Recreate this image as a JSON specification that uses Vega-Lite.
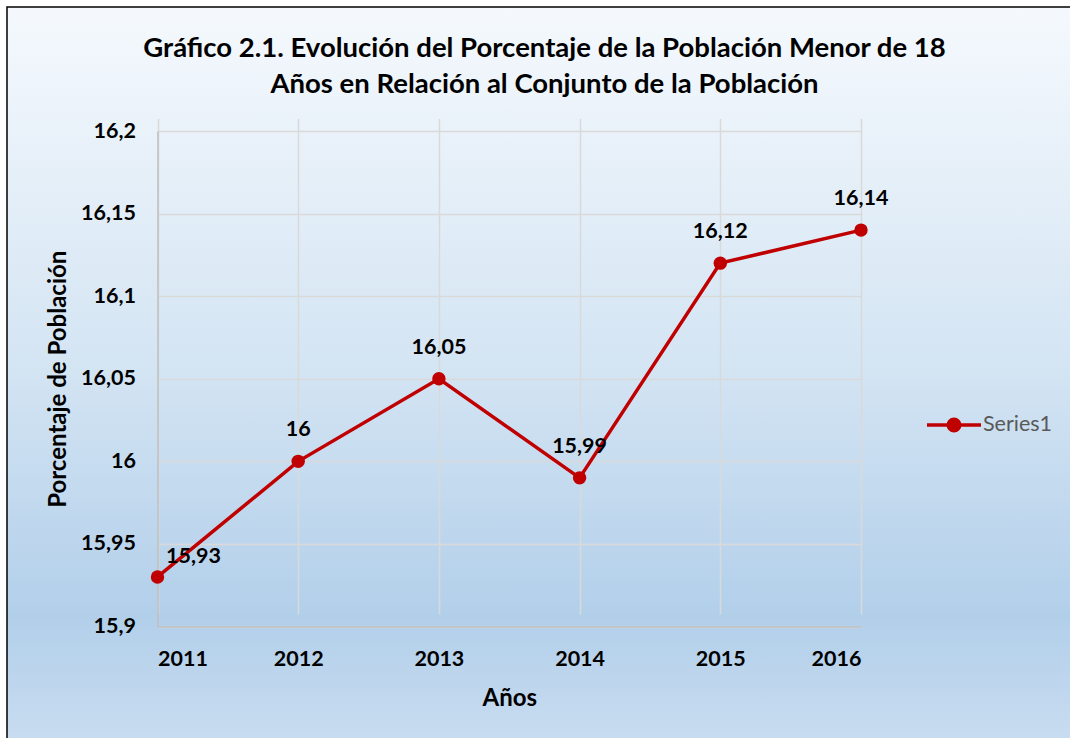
{
  "$schema": "https://vega.github.io/schema/vega-lite/v6.json",
  "width": 1063,
  "height": 731,
  "padding": {"left": 7, "top": 7, "right": 0, "bottom": 0},
  "autosize": {"type": "none"},
  "background": "#ffffff",
  "config": {
    "locale": {"number": {"decimal": ",", "thousands": ".", "grouping": [3], "currency": ["", " €"]}},
    "font": "Lato",
    "view": {
      "fill": {"gradient": "linear", "x1": 0, "y1": 0, "x2": 0, "y2": 1,
        "stops": [
          {"offset": 0, "color": "#f5f9fd"},
          {"offset": 0.5, "color": "#d3e4f3"},
          {"offset": 0.835, "color": "#b2cfea"},
          {"offset": 1, "color": "#c8dcf0"}
        ]},
      "stroke": "#000000",
      "strokeWidth": 1.5,
      "strokeDash": [1063, 1794, 731, 1]
    },
    "axis": {
      "domainColor": "#bfbfbf",
      "domainWidth": 1.5,
      "gridColor": "#d9d9d9",
      "gridWidth": 1.5,
      "ticks": false,
      "tickSize": 0,
      "labelFont": "Lato",
      "labelFontWeight": "bold",
      "labelFontSize": 21.5,
      "labelColor": "#000000",
      "labelOverlap": false,
      "labelBound": false,
      "titleFont": "Lato",
      "titleFontWeight": "bold",
      "titleFontSize": 24,
      "titleColor": "#000000"
    }
  },
  "title": {
    "text": ["Gráfico 2.1. Evolución del Porcentaje de la Población Menor de 18", "Años en Relación al Conjunto de la Población"],
    "font": "Lato",
    "fontSize": 27.5,
    "fontWeight": "bold",
    "color": "#000000",
    "lineHeight": 36,
    "anchor": "middle",
    "frame": "group",
    "offset": -91,
    "dx": 6
  },
  "data": {
    "values": [
      {"year": 2011, "value": 15.93, "serie": "Series1"},
      {"year": 2012, "value": 16.0, "serie": "Series1"},
      {"year": 2013, "value": 16.05, "serie": "Series1"},
      {"year": 2014, "value": 15.99, "serie": "Series1"},
      {"year": 2015, "value": 16.12, "serie": "Series1"},
      {"year": 2016, "value": 16.14, "serie": "Series1"}
    ]
  },
  "encoding": {
    "x": {
      "field": "year", "type": "quantitative",
      "scale": {"domain": [2011, 2016], "range": [150.5, 854], "nice": false, "zero": false},
      "axis": {
        "title": "Años",
        "values": [2011, 2012, 2013, 2014, 2015, 2016],
        "format": "d",
        "offset": -111.5,
        "labelPadding": 22,
        "titleY": 78.5,
        "titleBaseline": "alphabetic"
      }
    },
    "y": {
      "field": "value", "type": "quantitative",
      "scale": {"domain": [15.9, 16.2], "range": [619.5, 124], "nice": false, "zero": false},
      "axis": {
        "title": "Porcentaje de Población",
        "values": [15.9, 15.95, 16, 16.05, 16.1, 16.15, 16.2],
        "format": "~g",
        "offset": -150.5,
        "labelPadding": 22,
        "titleX": -92,
        "titleBaseline": "alphabetic",
        "titleAngle": 270
      }
    }
  },
  "layer": [
    {
      "mark": {"type": "line", "strokeWidth": 3.5, "point": {"filled": true, "size": 180, "opacity": 1}},
      "encoding": {
        "color": {
          "field": "serie", "type": "nominal",
          "scale": {"range": ["#c00000"]},
          "legend": {
            "title": null,
            "orient": "none",
            "legendX": 918,
            "legendY": 389,
            "padding": 0,
            "symbolType": "M-1,0H1M-0.213,0A0.213,0.213,0,1,1,0.213,0A0.213,0.213,0,1,1,-0.213,0Z",
            "symbolSize": 2916,
            "symbolStrokeWidth": 3.5,
            "symbolStrokeColor": "#c00000",
            "symbolFillColor": "#c00000",
            "labelFont": "Lato",
            "labelFontSize": 21.5,
            "labelFontWeight": "normal",
            "labelColor": "#595959",
            "labelOffset": 0,
            "encode": {"symbols": {"update": {"fill": {"value": "#c00000"}, "stroke": {"value": "#c00000"}, "strokeWidth": {"value": 3.5}, "opacity": {"value": 1}}}}
          }
        }
      }
    },
    {
      "transform": [{"filter": "datum.year > 2011"}],
      "mark": {"type": "text", "dy": -25, "baseline": "alphabetic", "font": "Lato", "fontSize": 21.5, "fontWeight": "bold", "color": "#000000"},
      "encoding": {"text": {"field": "value", "type": "quantitative", "format": "~g"}}
    },
    {
      "transform": [{"filter": "datum.year == 2011"}],
      "mark": {"type": "text", "dx": 36, "dy": -14, "baseline": "alphabetic", "font": "Lato", "fontSize": 21.5, "fontWeight": "bold", "color": "#000000"},
      "encoding": {"text": {"field": "value", "type": "quantitative", "format": "~g"}}
    }
  ]
}
